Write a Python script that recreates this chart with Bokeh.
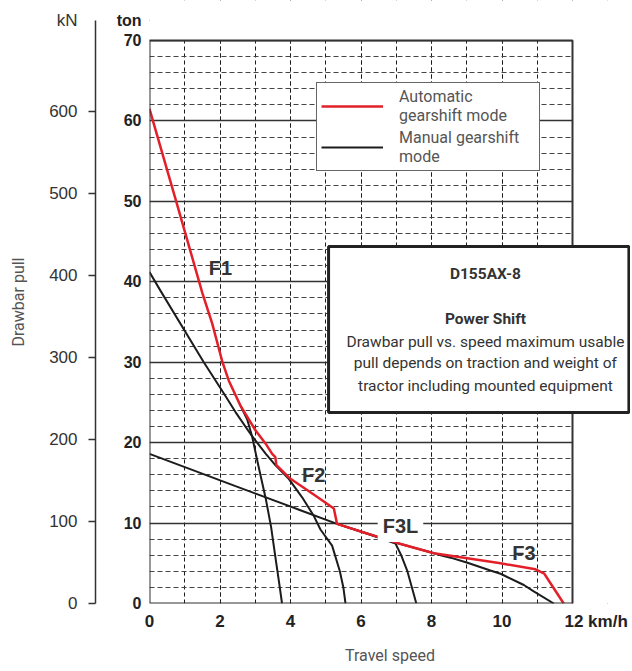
from bokeh.plotting import figure
from bokeh.models import (Range1d, LinearAxis, SingleIntervalTicker, FixedTicker,
                          Label, BoxAnnotation, Legend, LegendItem)
from bokeh.embed import file_html
from bokeh.resources import INLINE

TON_TO_KN = 9.80665

# Automatic gearshift mode (km/h, ton)
auto_speed = [0, 0.79, 1.50, 1.78, 2.07, 2.25, 2.58, 3.01, 3.29, 3.48, 3.57, 3.60,
              4.0, 4.71, 5.23, 5.32, 6.17, 7.05, 8.07, 9.96, 10.95, 11.2, 11.75]
auto_pull = [61.5, 49.5, 38.6, 34.8, 30.0, 27.7, 24.6, 21.5, 19.9, 18.6, 18.2, 17.2,
             15.5, 13.4, 11.8, 9.9, 8.7, 7.5, 6.25, 5.0, 4.25, 3.7, 0]

# Manual gearshift mode
f1_speed = [2.58, 2.77, 2.91, 3.10, 3.30, 3.45, 3.58, 3.68, 3.76]
f1_pull = [24.6, 22.9, 20.8, 16.9, 13.0, 9.5, 5.5, 2.5, 0]

f2_speed = [0, 0.31, 1.54, 2.11, 2.44, 2.91, 3.30, 3.57, 3.95, 4.33, 4.66, 4.85,
            5.18, 5.40, 5.50, 5.56]
f2_pull = [41.2, 38.9, 30.0, 26.1, 23.8, 20.8, 18.6, 17.2, 15.5, 13.2, 10.9, 9.2,
           7.2, 4.0, 2.0, 0]

f3l_speed = [0, 2.44, 4.28, 5.32, 6.17, 6.98, 7.15, 7.31, 7.45, 7.57]
f3l_pull = [18.6, 14.6, 11.6, 9.9, 8.7, 7.45, 5.9, 4.1, 1.9, 0]

f3_speed = [5.32, 6.17, 7.05, 8.07, 8.26, 8.54, 9.0, 9.67, 9.96, 10.62, 10.9, 11.47]
f3_pull = [9.9, 8.7, 7.5, 6.25, 6.0, 5.7, 5.1, 4.1, 3.7, 2.3, 1.5, 0]

gear_labels = ["F1", "F2", "F3L", "F3"]
gear_label_x = [2.01, 4.66, 7.12, 10.62]
gear_label_y = [41.7, 16.0, 9.65, 6.26]

speed_max = 12
ton_max = 70
ton_ticks = [0, 10, 20, 30, 40, 50, 60, 70]
kn_ticks = [0, 100, 200, 300, 400, 500, 600]
info_lines = ["D155AX-8", "Power Shift", "Drawbar pull vs. speed maximum usable",
              "pull depends on traction and weight of",
              "tractor including mounted equipment"]

RED = "#e3202a"
BLK = "#1c1c1c"
DARK = "#333333"
GREY = "#555555"

# layout (canvas pixels)
W, H = 630, 668
FL, FB = 149, 603          # frame left / bottom edges
PX_PER_KMH = 35.25
PX_PER_TON = 8.043
x_end = (W - FL) / PX_PER_KMH
y_end = FB / PX_PER_TON
unit_row = (FB - 20) / PX_PER_TON   # row of the "kN" / "ton" unit texts

p = figure(width=W, height=H, x_range=Range1d(0, x_end), y_range=Range1d(0, y_end),
           output_backend="svg", toolbar_location=None,
           min_border_left=FL, min_border_right=0, min_border_top=0,
           min_border_bottom=H - FB,
           background_fill_color="white", border_fill_color="white")
p.outline_line_color = None

# x axis
p.xaxis.ticker = SingleIntervalTicker(interval=2, num_minor_ticks=2)
p.xaxis.axis_line_color = None
p.xaxis.major_tick_line_color = None
p.xaxis.minor_tick_line_color = None
p.xaxis.major_tick_out = 0
p.xaxis.minor_tick_out = 0
p.xaxis.major_label_standoff = 8
p.xaxis.major_label_overrides = {speed_max: "\u00a0" * 10 + "12 km/h"}
p.xaxis.major_label_text_font = "Liberation Sans"
p.xaxis.major_label_text_font_style = "bold"
p.xaxis.major_label_text_font_size = "17px"
p.xaxis.major_label_text_color = "#222222"
p.xaxis.axis_label = "Travel speed"
p.xaxis.axis_label_text_font = "Roboto"
p.xaxis.axis_label_text_font_style = "normal"
p.xaxis.axis_label_text_font_size = "16px"
p.xaxis.axis_label_text_color = GREY
p.xaxis.axis_label_standoff = 12

# ton axis (unit text "ton" carried as an extra tick label)
minor_ton = [v for v in range(2, ton_max, 2) if v % 10]
p.yaxis.ticker = FixedTicker(ticks=ton_ticks + [unit_row], minor_ticks=minor_ton)
p.yaxis.major_label_overrides = {unit_row: "ton"}
p.yaxis.axis_line_color = None
p.yaxis.major_tick_line_color = None
p.yaxis.minor_tick_line_color = None
p.yaxis.major_tick_out = 0
p.yaxis.minor_tick_out = 0
p.yaxis.major_label_standoff = 8
p.yaxis.major_label_text_font = "Liberation Sans"
p.yaxis.major_label_text_font_style = "bold"
p.yaxis.major_label_text_font_size = "16px"
p.yaxis.major_label_text_color = "#222222"
p.yaxis.axis_label = " "
p.yaxis.axis_label_text_font_size = "10px"
p.yaxis.axis_label_standoff = 4

# kN axis
kn_unit = unit_row * TON_TO_KN
p.extra_y_ranges = {"kN": Range1d(0, y_end * TON_TO_KN)}
kn_axis = LinearAxis(y_range_name="kN",
                     ticker=FixedTicker(ticks=kn_ticks + [kn_unit], minor_ticks=kn_ticks),
                     bounds=(0, kn_unit))
kn_axis.major_label_overrides = {kn_unit: "kN"}
kn_axis.axis_line_color = DARK
kn_axis.axis_line_width = 1.5
kn_axis.major_tick_out = 0
kn_axis.major_tick_in = 0
kn_axis.major_tick_line_color = None
kn_axis.minor_tick_line_color = DARK
kn_axis.minor_tick_line_width = 1.5
kn_axis.minor_tick_out = 7
kn_axis.minor_tick_in = 0
kn_axis.major_label_standoff = 11
kn_axis.major_label_text_font = "Liberation Sans"
kn_axis.major_label_text_font_size = "17px"
kn_axis.major_label_text_color = DARK
kn_axis.axis_label = "Drawbar pull"
kn_axis.axis_label_text_font = "Roboto"
kn_axis.axis_label_text_font_style = "normal"
kn_axis.axis_label_text_font_size = "16px"
kn_axis.axis_label_text_color = GREY
kn_axis.axis_label_standoff = 18
p.add_layout(kn_axis, "left")

# grids
p.xgrid.grid_line_color = BLK
p.xgrid.grid_line_dash = "4 3"
p.xgrid.grid_line_width = 1
p.xgrid.minor_grid_line_color = BLK
p.xgrid.minor_grid_line_dash = "4 3"
p.xgrid.minor_grid_line_width = 1
p.ygrid.grid_line_color = DARK
p.ygrid.grid_line_width = 1.6
p.ygrid.minor_grid_line_color = "#444444"
p.ygrid.minor_grid_line_dash = "5 3"
p.ygrid.minor_grid_line_width = 1

# curves
r_f1 = p.line(f1_speed, f1_pull, line_color=BLK, line_width=2)
p.line(f2_speed, f2_pull, line_color=BLK, line_width=2)
p.line(f3l_speed, f3l_pull, line_color=BLK, line_width=2)
p.line(f3_speed, f3_pull, line_color=BLK, line_width=2)
r_auto = p.line(auto_speed, auto_pull, line_color=RED, line_width=2.5)

# blank the area outside the 0-12 km/h x 0-70 ton chart and draw its border
p.add_layout(BoxAnnotation(bottom=ton_max, fill_color="white", fill_alpha=1,
                           line_color=None))
p.add_layout(BoxAnnotation(left=speed_max, fill_color="white", fill_alpha=1,
                           line_color=None))
p.add_layout(BoxAnnotation(left=0, right=speed_max, bottom=0, top=ton_max,
                           fill_alpha=0, line_color=DARK, line_alpha=1, line_width=2))

for txt, gx, gy in zip(gear_labels, gear_label_x, gear_label_y):
    kw = {}
    if txt == "F3L":
        kw = dict(background_fill_color="white", padding=5)
    p.add_layout(Label(x=gx, y=gy, text=txt, text_align="center",
                       text_baseline="middle", text_font="Liberation Sans",
                       text_font_style="bold", text_font_size="20px",
                       text_color=DARK, **kw))

# legend
legend = Legend(items=[
    LegendItem(label="Automatic\ngearshift mode", renderers=[r_auto]),
    LegendItem(label="Manual gearshift\nmode", renderers=[r_f1]),
], location=(167, 432))
legend.border_line_color = "#666666"
legend.border_line_alpha = 1
legend.border_line_width = 1.2
legend.background_fill_color = "white"
legend.background_fill_alpha = 1
legend.padding = 4
legend.spacing = 3
legend.margin = 0
legend.glyph_width = 62
legend.glyph_height = 20
legend.label_standoff = 16
legend.label_width = 136
legend.label_text_font = "Roboto"
legend.label_text_font_size = "16px"
legend.label_text_color = GREY
legend.label_text_line_height = 1.45
p.add_layout(legend, "center")

# info box
p.add_layout(BoxAnnotation(left=5.08, right=13.6, top=44.4, bottom=23.75,
                           fill_color="white", fill_alpha=1,
                           line_color="#222222", line_alpha=1, line_width=3))
info_y = [41.0, 35.43, 32.57, 29.96, 27.1]
for i, (t, ty) in enumerate(zip(info_lines, info_y)):
    p.add_layout(Label(x=9.53, y=ty, text=t, text_align="center",
                       text_baseline="middle", text_font="Roboto",
                       text_font_style="bold" if i < 2 else "normal",
                       text_font_size="15.5px", text_color=DARK))

open("out.html", "w").write(file_html(p, INLINE))
